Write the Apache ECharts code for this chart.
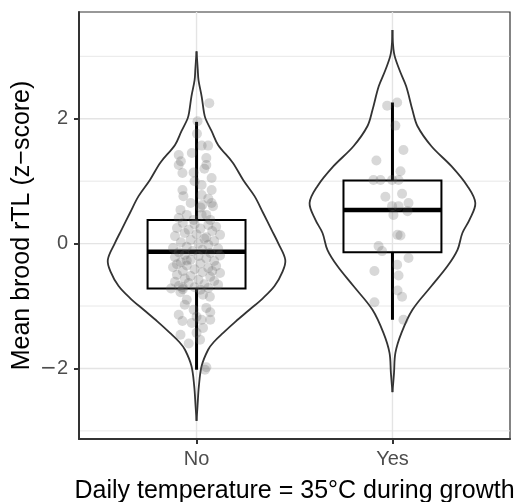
<!DOCTYPE html>
<html><head><meta charset="utf-8">
<script src="https://cdn.jsdelivr.net/npm/echarts@6/dist/echarts.min.js"></script>
<style>html,body{margin:0;padding:0;background:#fff}#c{width:518px;height:502px}</style>
</head><body><div id="c"></div>
<script>
// ---- data ----
const categories = ['No', 'Yes'];
const categoryPos = [1, 2];
const xTitle = 'Daily temperature = 35\u00B0C during growth';
const yTitle = 'Mean brood rTL (z\u2212score)';
const yTickValues = [-2, 0, 2];
const yGridMajor = [-2, 0, 2];
const yGridMinor = [-3, -1, 1, 3];

// box plot statistics per category
const boxLowerWhisker = [-2.02, -1.22];
const boxQ1 = [-0.72, -0.14];
const boxMedian = [-0.13, 0.54];
const boxQ3 = [0.38, 1.01];
const boxUpperWhisker = [1.95, 2.26];

// violin outlines: y values and half widths (x units)
const violinNoY = [3.08, 2.80, 2.62, 2.36, 2.10, 2.00, 1.80, 1.58, 1.30, 1.02, 0.76, 0.49, 0.22, 0.00, -0.26, -0.45, -0.68, -0.88, -1.06, -1.25, -1.43, -1.58, -1.70, -1.96, -2.28, -2.60, -2.84];
const violinNoHalf = [0, 0.006, 0.010, 0.026, 0.038, 0.046, 0.077, 0.110, 0.184, 0.238, 0.296, 0.340, 0.383, 0.418, 0.453, 0.439, 0.398, 0.337, 0.270, 0.199, 0.136, 0.087, 0.059, 0.026, 0.012, 0.005, 0];
const violinYesY = [3.42, 3.05, 2.78, 2.52, 2.14, 1.88, 1.56, 1.24, 0.92, 0.65, 0.38, 0.17, -0.10, -0.36, -0.68, -1.06, -1.43, -1.75, -2.07, -2.38];
const violinYesHalf = [0, 0.008, 0.036, 0.070, 0.102, 0.128, 0.199, 0.301, 0.383, 0.423, 0.393, 0.357, 0.332, 0.281, 0.199, 0.102, 0.046, 0.015, 0.008, 0];

// jittered observations [x, y]
const pointsNo = [
 [1.065,2.25],[1.005,1.96],[1.002,1.76],[1.026,1.57],[1.059,1.57],[0.976,1.45],[0.909,1.42],[1.05,1.37],
 [0.909,1.26],[1.05,1.26],[0.92,1.32],[0.928,1.13],[0.985,1.14],[1.04,1.2],[1.077,1.05],[0.99,1.0],
 [1.077,0.86],[0.928,0.86],[1.026,0.94],[0.933,0.76],[1.026,0.78],[1.06,0.72],[0.97,0.65],[1.03,0.62],
 [1.077,0.65],[0.918,0.54],[1.02,0.58],[1.084,0.6],[0.95,0.46],[1.05,0.46],[0.909,0.41],[0.985,0.38],
 [1.07,0.38],[1.026,0.46],
 [0.93,0.33],[0.99,0.31],[1.06,0.30],[1.10,0.27],[0.90,0.25],[0.96,0.22],[1.02,0.24],[1.08,0.20],
 [0.94,0.17],[1.00,0.15],[1.12,0.14],[0.89,0.12],[1.05,0.10],[0.97,0.06],[1.09,0.04],[0.92,0.02],
 [1.01,0.00],[1.06,-0.02],[0.95,-0.05],[0.88,-0.07],[1.11,-0.08],[1.03,-0.10],[0.98,-0.12],[0.91,-0.14],
 [1.07,-0.15],[0.94,-0.18],[1.01,-0.20],[1.12,-0.19],[0.89,-0.22],[1.05,-0.24],[0.97,-0.26],[1.09,-0.28],
 [0.92,-0.30],[1.02,-0.32],[0.95,-0.35],[1.10,-0.36],[0.88,-0.38],[1.06,-0.39],[0.99,-0.41],[0.93,-0.44],
 [1.03,-0.46],[1.12,-0.47],[0.90,-0.50],[0.97,-0.52],[1.07,-0.53],[0.94,-0.56],[1.01,-0.58],[0.89,-0.61],
 [1.09,-0.60],[0.96,-0.63],[1.04,-0.65],[0.91,-0.68],[0.99,-0.70],[1.06,-0.71],[0.93,-0.73],[1.02,-0.74],
 [0.87,-0.72],[1.11,-0.66],[0.95,-0.27],[1.04,0.08],[0.90,-0.33],[1.08,-0.44],
 [0.918,-0.78],[1.033,-0.82],[0.95,-0.9],[0.94,-0.98],[1.05,-1.03],[1.068,-0.85],[0.985,-1.06],[1.07,-1.1],
 [0.93,-0.7],[1.0,-1.17],[0.909,-1.14],[0.928,-1.24],[0.976,-1.27],[1.026,-1.22],[1.07,-1.22],[1.033,-1.35],
 [0.918,-1.46],[1.0,-1.43],[1.018,-1.54],[0.96,-1.6],[1.05,-1.98],[1.043,-2.02]
];
const pointsYes = [
 [1.973,2.21],[2.024,2.26],[2.015,1.89],[2.056,1.50],[1.918,1.33],[2.041,1.16],[1.903,1.02],[1.939,1.02],
 [1.998,1.02],[2.031,1.02],[1.964,0.75],[2.049,0.80],[1.998,0.60],[2.031,0.60],[2.082,0.65],[2.077,0.52],
 [2.005,0.46],[2.041,0.13],[2.026,0.14],[1.929,-0.04],[1.947,-0.12],[2.082,-0.23],[2.024,-0.34],[1.908,-0.44],
 [2.031,-0.51],[2.026,-0.75],[2.049,-0.85],[1.908,-0.94],[2.056,-1.22]
];

// ---- chart ----
const violinY = [violinNoY, violinYesY];
const violinHalf = [violinNoHalf, violinYesHalf];
const X_MIN = 0.4, X_MAX = 2.6, Y_MIN = -3.13, Y_MAX = 3.71;
const fmtY = v => (v < 0 ? '{m|\u2212}{n|' + Math.abs(v) + '}' : '{n|' + v + '}');

const hGridData = yGridMajor.map(v => [X_MIN, v, 1.4]).concat(yGridMinor.map(v => [X_MIN, v, 0.9]));
const vGridData = categoryPos.map(v => [v, Y_MIN, 1.4]);

function hGridRender(params, api) {
  const y = api.value(1);
  const a = api.coord([X_MIN, y]), b = api.coord([X_MAX, y]);
  return {type: 'line', shape: {x1: a[0], y1: a[1], x2: b[0], y2: b[1]}, style: {stroke: '#e4e4e4', lineWidth: api.value(2)}};
}
function vGridRender(params, api) {
  const x = api.value(0);
  const a = api.coord([x, Y_MIN]), b = api.coord([x, Y_MAX]);
  return {type: 'line', shape: {x1: a[0], y1: a[1], x2: b[0], y2: b[1]}, style: {stroke: '#e4e4e4', lineWidth: api.value(2)}};
}
function violinRender(params, api) {
  const i = params.dataIndex;
  const c = api.value(0);
  const ys = violinY[i], hs = violinHalf[i];
  const right = [], left = [];
  for (let k = 0; k < ys.length; k++) {
    right.push(api.coord([c + hs[k], ys[k]]));
    left.push(api.coord([c - hs[k], ys[k]]));
  }
  const st = {fill: 'none', stroke: '#333333', lineWidth: 1.8};
  return {type: 'group', children: [
    {type: 'polyline', shape: {points: right, smooth: 0.35}, style: st},
    {type: 'polyline', shape: {points: left, smooth: 0.35}, style: st}
  ]};
}
function boxRender(params, api) {
  const i = params.dataIndex;
  const c = api.value(0);
  const hw = 0.25;
  const tl = api.coord([c - hw, boxQ3[i]]);
  const br = api.coord([c + hw, boxQ1[i]]);
  const m1 = api.coord([c - hw, boxMedian[i]]), m2 = api.coord([c + hw, boxMedian[i]]);
  const wt = api.coord([c, boxUpperWhisker[i]]), wq3 = api.coord([c, boxQ3[i]]);
  const wb = api.coord([c, boxLowerWhisker[i]]), wq1 = api.coord([c, boxQ1[i]]);
  return {type: 'group', children: [
    {type: 'line', shape: {x1: wq3[0], y1: wq3[1], x2: wt[0], y2: wt[1]}, style: {stroke: '#000', lineWidth: 3}},
    {type: 'line', shape: {x1: wq1[0], y1: wq1[1], x2: wb[0], y2: wb[1]}, style: {stroke: '#000', lineWidth: 3}},
    {type: 'rect', shape: {x: tl[0], y: tl[1], width: br[0] - tl[0], height: br[1] - tl[1]}, style: {fill: 'none', stroke: '#000', lineWidth: 2}},
    {type: 'line', shape: {x1: m1[0], y1: m1[1], x2: m2[0], y2: m2[1]}, style: {stroke: '#000', lineWidth: 4.5}}
  ]};
}

const chart = echarts.init(document.getElementById('c'), null, {renderer: 'canvas'});
const fontFamily = 'Liberation Sans, Arial, sans-serif';
chart.setOption({
  animation: false,
  backgroundColor: '#ffffff',
  textStyle: {fontFamily},
  grid: {left: 79, right: 8, top: 12, bottom: 63, show: true, borderColor: '#333333', borderWidth: 1.2, backgroundColor: 'transparent', outerBoundsMode: 'none', containLabel: false},
  xAxis: {
    type: 'value', min: X_MIN, max: X_MAX,
    splitLine: {show: false},
    axisLine: {show: true, onZero: false, lineStyle: {color: '#333333', width: 2}},
    axisTick: {show: true, customValues: categoryPos, length: 5, lineStyle: {color: '#333333', width: 2}},
    axisLabel: {customValues: categoryPos, formatter: v => categories[categoryPos.indexOf(v)] || '', color: '#4d4d4d', fontSize: 20, margin: 10, fontFamily},
    name: xTitle, nameLocation: 'middle', nameGap: 40, nameMoveOverlap: false,
    nameTextStyle: {fontSize: 25, color: '#000', fontFamily}
  },
  yAxis: {
    type: 'value', min: Y_MIN, max: Y_MAX,
    splitLine: {show: false},
    axisLine: {show: true, onZero: false, lineStyle: {color: '#333333', width: 2}},
    axisTick: {show: true, customValues: yTickValues, length: 5, lineStyle: {color: '#333333', width: 2}},
    axisLabel: {
      customValues: yTickValues, formatter: fmtY, color: '#4d4d4d', fontSize: 20, margin: 11, fontFamily,
      rich: {
        m: {fontFamily: 'DejaVu Sans', fontSize: 20, color: '#4d4d4d'},
        n: {fontFamily, fontSize: 20, color: '#4d4d4d'}
      }
    },
    name: yTitle, nameLocation: 'middle', nameGap: 44, nameRotate: 90, nameMoveOverlap: false,
    nameTextStyle: {fontSize: 25, color: '#000', fontFamily}
  },
  series: [
    {type: 'custom', name: 'hgrid', silent: true, z: 0, renderItem: hGridRender, data: hGridData, encode: {x: 0, y: 1}},
    {type: 'custom', name: 'vgrid', silent: true, z: 0, renderItem: vGridRender, data: vGridData, encode: {x: 0, y: 1}},
    {type: 'custom', name: 'violin', silent: true, z: 2, renderItem: violinRender, data: categoryPos.map(c => [c, 0]), encode: {x: 0, y: 1}},
    {type: 'custom', name: 'box', silent: true, z: 3, renderItem: boxRender, data: categoryPos.map(c => [c, 0]), encode: {x: 0, y: 1}},
    {type: 'scatter', name: 'No', z: 4, symbolSize: 10, itemStyle: {color: 'rgba(95,95,95,0.3)'}, data: pointsNo},
    {type: 'scatter', name: 'Yes', z: 4, symbolSize: 10, itemStyle: {color: 'rgba(95,95,95,0.3)'}, data: pointsYes}
  ]
});
</script>
</body></html>
